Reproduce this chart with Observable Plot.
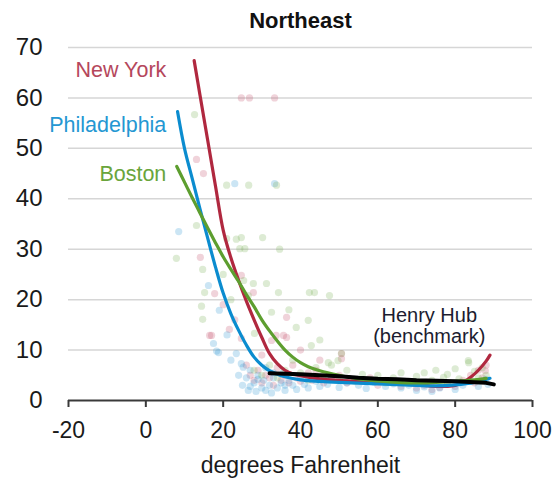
<!DOCTYPE html>
<html>
<head>
<meta charset="utf-8">
<script src="https://cdn.jsdelivr.net/npm/d3@7"></script>
<script src="https://cdn.jsdelivr.net/npm/@observablehq/plot@0.6"></script>
<style>
  html, body { margin: 0; padding: 0; background: #fff; }
</style>
</head>
<body>
<div id="chart"></div>
<script>
const title = "Northeast";
const xLabel = "degrees Fahrenheit";
const xTicks = [-20, 0, 20, 40, 60, 80, 100];
const yTicks = [0, 10, 20, 30, 40, 50, 60, 70];

const cities = ["New York", "Philadelphia", "Boston"];
const lineColors = ["#b0283f", "#0b8ccf", "#5d9e2f"];
const labelColors = ["#b5475c", "#2497d2", "#6aa53c"];
const pointColors = ["#c2506a", "#3199d3", "#79b055"];
const labelPos = [[5.3, 65.5], [5.3, 54.6], [5.3, 44.8]];

const hubLabel = ["Henry Hub", "(benchmark)"];
const hubLabelPos = [[73.3, 16.9], [73.3, 12.6]];

// scatter observations [temperature, price]
const nyPoints = [
  [24.7,60],[26.8,60],[33.3,60],[13.1,47.8],[14.9,45],[14.1,28.4],[16.5,12.9],[21.6,14.1],
  [24.7,12.3],[32.5,11.9],[36.4,12.5],[36.4,16.5],[17.8,21.2],[24.7,24.8],[27.8,21.4],
  [35.6,12.9],[17,12.9],[33.7,12.9],[50.6,9.3],[50.6,8.3],[87.8,5.9],[20,19],[23,16],[30,9],
  [26,7],[27,5],[28,4],[29,6],[30,3.5],[31,5],[32,4.5],[33,3],[34,6.5],[35,4],[36,5],[37,3.5],
  [38,7],[39,4.5],[40,3.8],[42,5.5],[43,4],[44,6],[46,3.5],[48,4.5],[50,5],[52,3.5],[54,4.2],
  [56,3.8],[58,4.5],[60,3],[62,4],[64,3.5],[66,2.8],[68,3.5],[70,2.5],[72,3],[74,2.2],[76,2.6],
  [78,3.2],[80,2.8],[82,4],[84,5],[85,3.5],[86,6],[87,4.5],[88,7],[45,8],[40,10]
];
const phPoints = [
  [23,43],[33.3,43],[8.5,33.5],[16.2,22.8],[19,17.9],[17.5,11.3],[18.8,9.5],[23.4,9.3],
  [18.3,9.8],[24.7,7.3],[25.2,6.6],[21,13],[22,8],
  [24,5],[25,3],[26,4.5],[26.5,2],[27,6],[28,3.5],[28.5,1.8],[29,5],[30,2.5],[30.5,4],[31,6.5],
  [32,3],[32.5,1.5],[33,4.5],[34,2.5],[35,3.5],[35.5,5.5],[36,2],[37,4],[38,3],[39,2.2],[40,4.5],
  [41,3.2],[42,2.5],[44,3.8],[45,2.8],[47,3.2],[48,4.2],[50,2.6],[52,3.5],[55,3],[57,2.4],
  [59,3.6],[62,2.8],[64,3.3],[66,2.5],[68,3],[70,2],[72,2.7],[74,1.8],[76,2.5],[78,3.2],[80,2.2],
  [82,3],[84,3.8],[86,2.8],[88,4.2],[88.5,3.2],[27,2.8],[29,4.2],[31,2],[33,5.5],[36,3]
];
const boPoints = [
  [12.6,56.7],[20.9,42.7],[26.6,42.7],[33.8,42.7],[13.1,34.7],[20.9,32.1],[24.7,32.3],[30.2,32.3],
  [7.9,28.2],[14.7,26],[34.6,30],[15.2,21.4],[31.2,23.2],[34.3,21.4],[42.3,21.4],[43.6,21.4],
  [47.5,20.8],[14.4,18.7],[14.7,16.1],[32.5,17.5],[42,15.9],[38.9,14.5],[42.8,10.9],[50.6,9.3],
  [83.4,7.9],[24.3,30.1],[25.6,30.1],[23.4,32],[25.3,23.8],[27.8,23.2],[26.5,20.8],[28.1,13.3],
  [47.2,7.5],[49.7,7.9],[20,25],[22,20],[37,18],[45,12],
  [28,6],[30,5],[32,7],[34,4.5],[36,6],[38,8],[40,5.5],[42,4],[44,6.5],[46,5],[48,7],[50,4.5],
  [52,6],[54,3.8],[56,5.2],[58,4.2],[60,5],[62,3.5],[64,4.5],[66,5.5],[68,3.8],[70,4.8],[72,5.5],
  [74,4],[75,6],[77,4.6],[78,5.2],[80,6.3],[81,4.3],[83.5,7.5],[85,5.8],[86,4.5],[87,6.5],[88,5]
];

// fitted curves [temperature, price]
const nyCurve = [
  [12.5,67.4],[14,60.6],[16,51.6],[18,42.6],[20,33.8],[22,28.3],[24,23.8],[26,19.7],[28,16],
  [30,12.5],[32,9.3],[34,7.3],[36,6],[38,5.3],[40,4.9],[45,4.3],[50,4],[55,3.8],[60,3.6],
  [65,3.4],[70,3.1],[75,2.8],[78,2.8],[80,3],[82,3.6],[84,4.6],[86,6],[88,7.8],[89,9]
];
const phCurve = [
  [8.2,57.3],[10,50],[12,44],[14,38],[16,32.2],[18,26.5],[20,21.3],[22,17.2],[24,13.9],[26,11],
  [28,8.6],[30,7],[32,5.9],[34,5.2],[36,4.7],[40,4.1],[45,3.8],[50,3.6],[60,3.3],[70,3],
  [75,2.9],[80,3.1],[85,3.6],[89,4.4]
];
const boCurve = [
  [8,46.4],[10,43.3],[12,40.2],[14,37.2],[16,34.2],[18,31.3],[20,28.5],[22,26],[24,23.6],[26,21],
  [28,18.6],[30,16],[32,13.8],[34,11.8],[36,10],[38,8.6],[40,7.5],[42,6.7],[45,5.9],[50,5],
  [55,4.3],[60,3.9],[65,3.6],[70,3.5],[75,3.6],[80,3.8],[85,4.1],[88,4.4]
];
const hubCurve = [
  [32,5.4],[36,5.3],[40,5.2],[45,5],[50,4.8],[55,4.5],[60,4.3],[65,4.2],[70,4],[75,3.9],
  [80,3.8],[85,3.6],[88,3.5],[90,3.2]
];

const pointSets = [nyPoints, phPoints, boPoints];
const curveSets = [nyCurve, phCurve, boCurve];

const pts = pointSets.flatMap((arr, i) => arr.map(([x, y]) => ({x, y, c: i})));
const font = "Liberation Sans, Arial, sans-serif";

const marks = [
  Plot.gridY(yTicks.filter(d => d > 0), {stroke: "#d6d6d6", strokeOpacity: 1, strokeWidth: 1.5}),
  Plot.dot(pts, {x: "x", y: "y", r: 3.6, fill: d => pointColors[d.c], fillOpacity: 0.25, stroke: "none"}),
  ...curveSets.map((c, i) => Plot.line(c, {x: d => d[0], y: d => d[1], stroke: lineColors[i], strokeWidth: 3.2, curve: "catmull-rom"})),
  Plot.line(hubCurve, {x: d => d[0], y: d => d[1], stroke: "#000", strokeWidth: 4, curve: "linear"}),
  Plot.ruleY([0], {stroke: "#3a3a3a", strokeWidth: 2}),
  Plot.axisX({ticks: xTicks, tickSize: 7, tickPadding: 14, fontSize: 23, label: null, stroke: "#3a3a3a", strokeWidth: 2, fill: "#1a1a1a", tickFormat: d => d < 0 ? "-" + Math.abs(d) : String(d)}),
  Plot.axisY({ticks: yTicks, tickSize: 0, tickPadding: 26, fontSize: 24, label: null, fill: "#1a1a1a"}),
  Plot.text(cities, {x: (d, i) => labelPos[i][0], y: (d, i) => labelPos[i][1], text: d => d, fill: (d, i) => labelColors[i], textAnchor: "end", fontSize: 21.5}),
  Plot.text(hubLabel, {x: (d, i) => hubLabelPos[i][0], y: (d, i) => hubLabelPos[i][1], text: d => d, fill: "#1c1c30", fontSize: 20}),
  Plot.text([title], {frameAnchor: "top", lineAnchor: "middle", dy: -27, fontSize: 22, fontWeight: "bold", fill: "#111"}),
  Plot.text([xLabel], {frameAnchor: "bottom", lineAnchor: "middle", dy: 65, fontSize: 23, fill: "#1a1a1a"})
];

const chart = Plot.plot({
  width: 558,
  height: 478,
  marginLeft: 68,
  marginRight: 26,
  marginTop: 47,
  marginBottom: 78,
  x: {domain: [-20, 100]},
  y: {domain: [0, 70]},
  style: {fontFamily: font, background: "#fff", overflow: "visible"},
  marks
});
document.getElementById("chart").appendChild(chart);
</script>
</body>
</html>
